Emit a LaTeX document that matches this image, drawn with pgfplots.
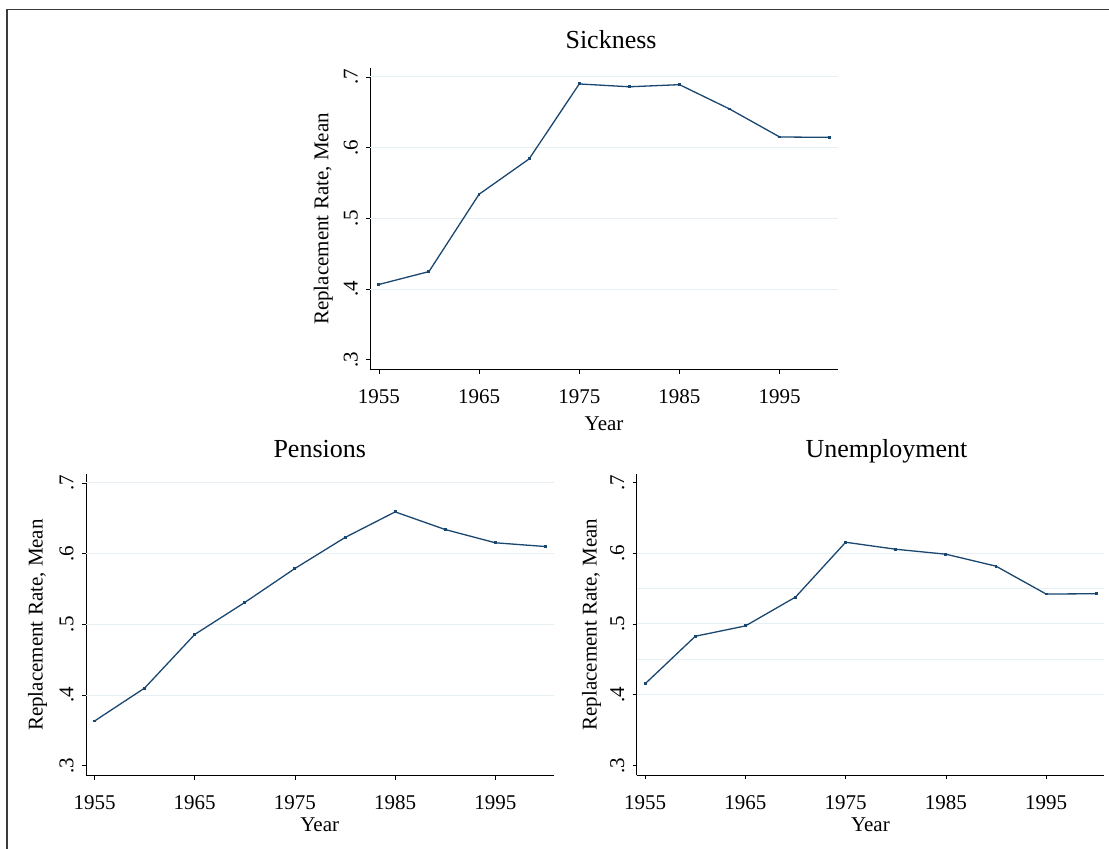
\documentclass[border=0pt]{standalone}
\usepackage{fontspec}
\setmainfont{Liberation Serif}
\usepackage{pgfplots}
\pgfplotsset{compat=1.18}
\definecolor{stnavy}{RGB}{26,71,111}
\definecolor{stgrid}{RGB}{230,239,243}
\definecolor{frame}{RGB}{60,60,60}
\pgfplotsset{
  stata/.style={
    scale only axis, anchor=south west,
    width=467.5bp, height=301.3bp,
    xmin=1954.15, xmax=2000.8, ymin=0.286, ymax=0.712,
    axis x line*=bottom, axis y line*=left,
    axis line style={-, black, line width=0.8bp},
    xtick={1955,1965,1975,1985,1995}, xticklabels={1955,1965,1975,1985,1995},
    ytick={0.3,0.4,0.5,0.6,0.7}, yticklabels={.3,.4,.5,.6,.7},
    tick align=outside, major tick length=4bp,
    tick style={black, line width=0.6bp},
    ticklabel style={font=\fontsize{21bp}{25bp}\selectfont},
    yticklabel style={xshift=-8.6bp, rotate=90, anchor=base},
    xticklabel style={anchor=base, yshift=-30bp},
    major grid style={stgrid, line width=1bp},
    extra y tick style={grid=major, major tick length=0pt, yticklabel={}},
    every axis x label/.style={at={(axis description cs:0.5,0)}, anchor=base, font=\fontsize{21bp}{25bp}\selectfont},
    every axis y label/.style={rotate=90, anchor=base, font=\fontsize{21bp}{25bp}\selectfont},
    every axis title/.style={at={(axis description cs:0.5,1)}, anchor=base, font=\fontsize{26bp}{30bp}\selectfont},
    xlabel={Year}, ylabel={Replacement Rate, Mean},
  },
  series/.style={stnavy, line width=1.3bp, mark=square*, mark size=0.8bp},
}
\begin{document}
\begin{tikzpicture}
\useasboundingbox (0,0) rectangle (1109bp,849bp);
\draw[frame, line width=1.5bp] (7bp,-10bp) rectangle (1125bp,839.3bp);

% Sickness
\begin{axis}[stata, at={(370.3bp,479.3bp)},
  title={Sickness}, title style={yshift=20bp, xshift=7bp},
  xlabel style={yshift=-61bp},
  ylabel style={at={(axis description cs:-0.0897,0.5)}},
  extra y ticks={0.4,0.5,0.6,0.7}]
\addplot[series] coordinates {
(1955,0.4065) (1960,0.4247) (1965,0.534) (1970,0.584) (1975,0.690)
(1980,0.686) (1985,0.689) (1990,0.6546) (1995,0.615) (2000,0.6145)};
\end{axis}

% Pensions
\begin{axis}[stata, at={(86bp,73.3bp)},
  title={Pensions}, title style={yshift=16.7bp},
  xlabel style={yshift=-56bp},
  ylabel style={at={(axis description cs:-0.0927,0.5)}},
  extra y ticks={0.4,0.5,0.6,0.7}]
\addplot[series] coordinates {
(1955,0.3633) (1960,0.4099) (1965,0.4857) (1970,0.531) (1975,0.579)
(1980,0.6228) (1985,0.659) (1990,0.634) (1995,0.6153) (2000,0.610)};
\end{axis}

% Unemployment
\begin{axis}[stata, at={(636.7bp,73.7bp)},
  title={Unemployment}, title style={yshift=16bp, xshift=16bp},
  xlabel style={yshift=-56bp},
  ylabel style={at={(axis description cs:-0.0855,0.5)}},
  extra y ticks={0.4,0.45,0.5,0.55,0.6}]
\addplot[series] coordinates {
(1955,0.4155) (1960,0.4826) (1965,0.4972) (1970,0.538) (1975,0.6155)
(1980,0.6056) (1985,0.5986) (1990,0.5817) (1995,0.5423) (2000,0.5427)};
\end{axis}
\end{tikzpicture}
\end{document}
